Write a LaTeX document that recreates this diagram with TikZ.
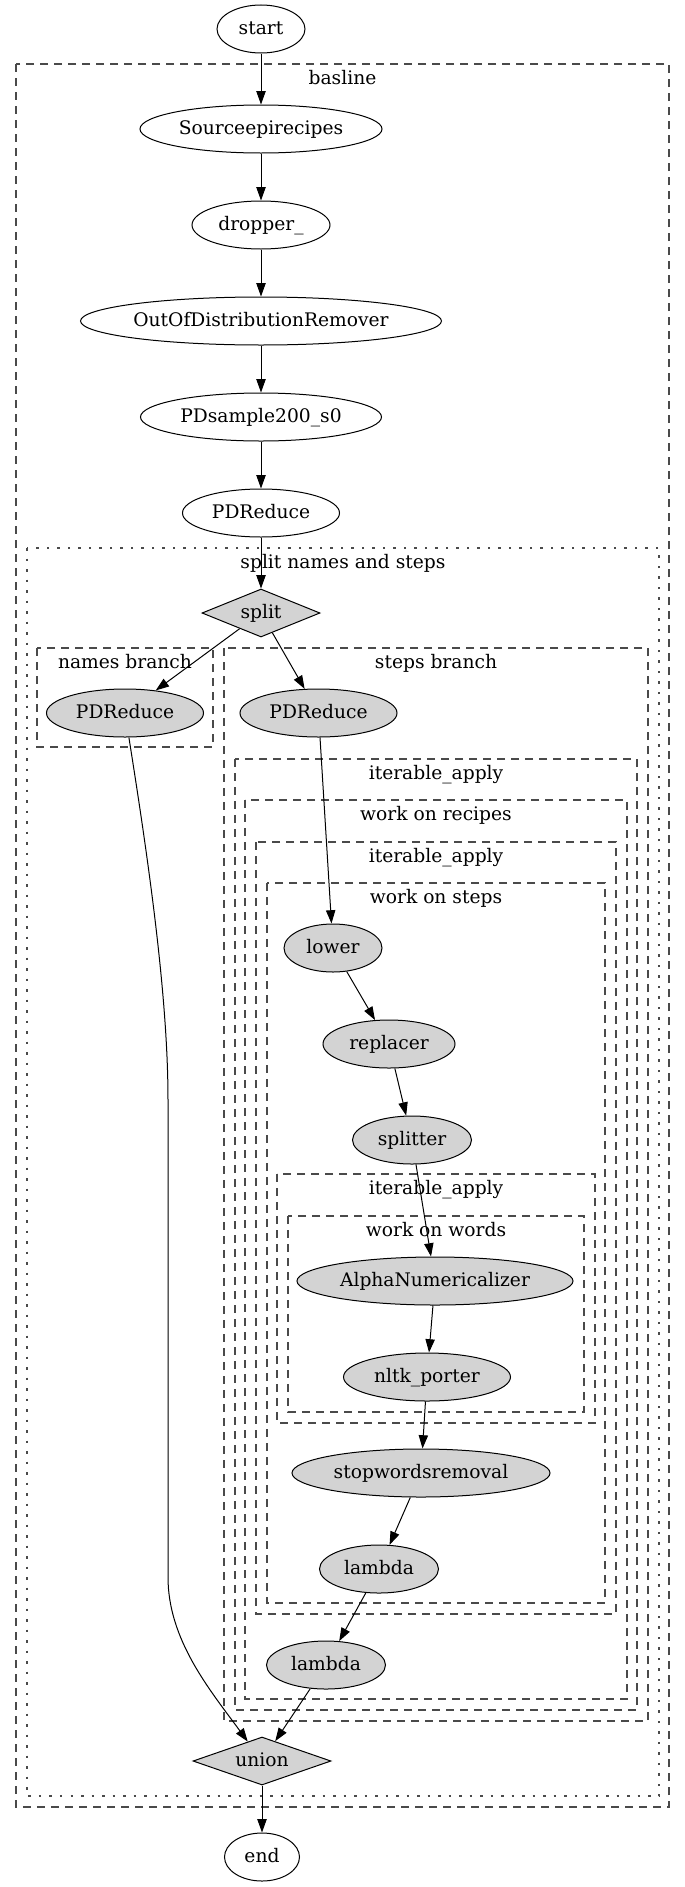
\documentclass[tikz,border=0pt]{standalone}
\usepackage{fontspec}
\setmainfont{DejaVu Serif}
\usetikzlibrary{shapes.geometric,arrows.meta}
\definecolor{nodefill}{HTML}{D3D3D3}
\definecolor{clusterline}{HTML}{4A4A4A}
\begin{document}
\begin{tikzpicture}[x=1pt,y=-1pt,
  every node/.style={font=\fontsize{18.67}{22}\selectfont},
  op/.style={ellipse,draw,line width=1pt,inner sep=0pt,minimum height=48pt,
             text height=14pt,text depth=4pt},
  plain/.style={op,fill=white},
  proc/.style={op,fill=nodefill},
  gate/.style={diamond,draw,line width=1pt,fill=nodefill,inner sep=0pt,aspect=2.5,
               minimum height=48pt,text height=14pt,text depth=4pt},
  flow/.style={-{Triangle[length=13.3pt,width=9.3pt]},line width=1pt},
  cluster/.style={draw=clusterline,line width=1.1pt,dash pattern=on 8pt off 6pt},
  dotcluster/.style={draw=clusterline,line width=1.1pt,dash pattern=on 2.5pt off 8pt},
  clabel/.style={anchor=base,inner sep=0pt}
]
\useasboundingbox (0,0) rectangle (685,1887);

% clusters
\draw[cluster]    (16,64)   rectangle (669,1807);
\draw[dotcluster] (27,548)  rectangle (659,1796);
\draw[cluster]    (37,648)  rectangle (213,747);
\draw[cluster]    (224,648) rectangle (648,1721);
\draw[cluster]    (235,759) rectangle (637,1710);
\draw[cluster]    (245,800) rectangle (627,1699);
\draw[cluster]    (256,842) rectangle (616,1614);
\draw[cluster]    (267,883) rectangle (605,1603);
\draw[cluster]    (277,1174) rectangle (595,1423);
\draw[cluster]    (288,1216) rectangle (584,1412);

\node[clabel] (lbasline) at (342.5,84)  {basline};
\node[clabel] (lsplit)   at (343,568)   {split names and steps};
\node[clabel] (lnames)   at (125,668)   {names branch};
\node[clabel] (lsteps)   at (436,668)   {steps branch};
\node[clabel] (lia1)     at (436,779)   {iterable\_apply};
\node[clabel] (lrec)     at (436,820)   {work on recipes};
\node[clabel] (lia2)     at (436,862)   {iterable\_apply};
\node[clabel] (lst)      at (436,903)   {work on steps};
\node[clabel] (lia3)     at (436,1194)  {iterable\_apply};
\node[clabel] (lwords)   at (436,1236)  {work on words};

% nodes
\node[plain,minimum width=88pt]  (start)   at (261,29)   {start};
\node[plain,minimum width=242pt] (source)  at (261,129)  {Sourceepirecipes};
\node[plain,minimum width=138pt] (dropper) at (261,225)  {dropper\_};
\node[plain,minimum width=360pt] (ood)     at (261,321)  {OutOfDistributionRemover};
\node[plain,minimum width=241pt] (sample)  at (261,417)  {PDsample200\_s0};
\node[plain,minimum width=157pt] (reduce)  at (261,513)  {PDReduce};
\node[gate,minimum width=118pt]  (split)   at (261,613)  {split};
\node[proc,minimum width=157pt]  (pdrn)    at (125,713)  {PDReduce};
\node[proc,minimum width=157pt]  (pdrs)    at (318.5,713) {PDReduce};
\node[proc,minimum width=98pt]   (lower)   at (333,948)  {lower};
\node[proc,minimum width=132pt]  (replacer) at (389,1044) {replacer};
\node[proc,minimum width=119pt]  (splitter) at (412,1140) {splitter};
\node[proc,minimum width=276pt]  (alnum)   at (435,1281) {AlphaNumericalizer};
\node[proc,minimum width=167pt]  (porter)  at (427,1377) {nltk\_porter};
\node[proc,minimum width=258pt]  (stopw)   at (421,1473) {stopwordsremoval};
\node[proc,minimum width=119pt]  (lambdaA) at (379,1569) {lambda};
\node[proc,minimum width=119pt]  (lambdaB) at (326,1665) {lambda};
\node[gate,minimum width=138pt]  (union)   at (262,1761) {union};
\node[plain,minimum width=75pt]  (end)     at (262,1857) {end};

% connectors
\draw[flow] (start) -- (source);
\draw[flow] (source) -- (dropper);
\draw[flow] (dropper) -- (ood);
\draw[flow] (ood) -- (sample);
\draw[flow] (sample) -- (reduce);
\draw[flow] (reduce) -- (split);
\draw[flow] (split) -- (pdrn);
\draw[flow] (split) -- (pdrs);
\draw[flow] (pdrs) -- (lower);
\draw[flow] (lower) -- (replacer);
\draw[flow] (replacer) -- (splitter);
\draw[flow] (splitter) -- (alnum);
\draw[flow] (alnum) -- (porter);
\draw[flow] (porter) -- (stopw);
\draw[flow] (stopw) -- (lambdaA);
\draw[flow] (lambdaA) -- (lambdaB);
\draw[flow] (lambdaB) -- (union);
\draw[flow] (pdrn) .. controls (150,870) and (168,1000) .. (168,1100)
            -- (168,1577) .. controls (168,1640) and (210,1690) .. (union);
\draw[flow] (union) -- (end);
\end{tikzpicture}
\end{document}
